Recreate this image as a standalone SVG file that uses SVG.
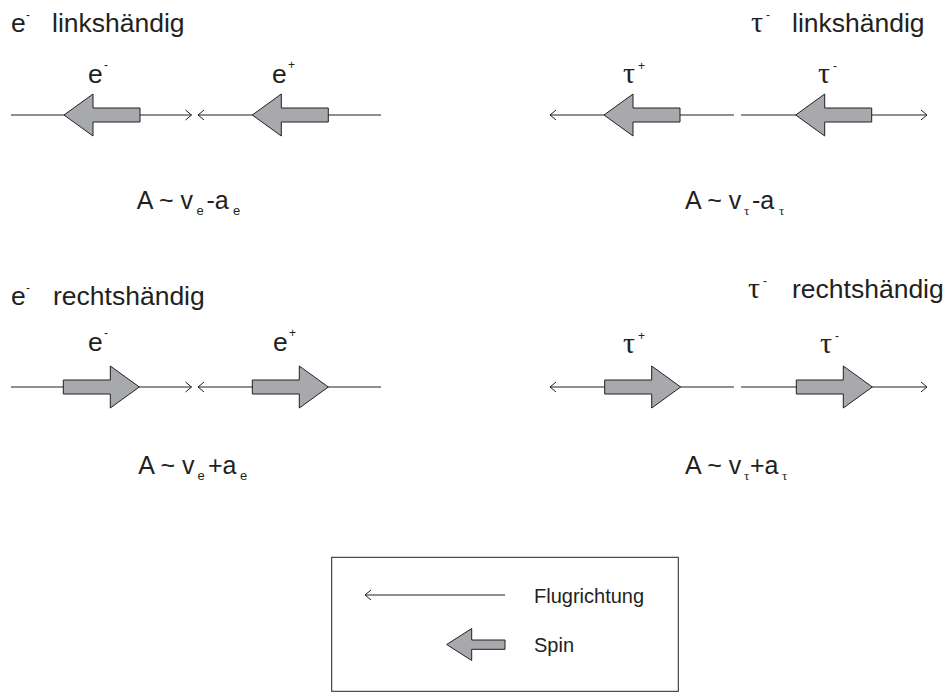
<svg xmlns="http://www.w3.org/2000/svg" xmlns:xlink="http://www.w3.org/1999/xlink" width="946" height="692" viewBox="0 0 946 692">
<style>
text{font-family:"Liberation Sans",Arial,sans-serif;fill:#231f20}
.t{font-size:26.5px}
.tau{font-family:"Liberation Serif","Times New Roman",serif;font-size:30px}
.f{font-size:25px}
.sub{font-size:13px}
.subt{font-family:"Liberation Serif","Times New Roman",serif;font-size:13px}
.sup{font-size:12px}
.lg{font-size:20px}
.ln{stroke:#231f20;stroke-width:1;fill:none}
.spin{fill:#a7a9ac;stroke:#231f20;stroke-width:1}
</style>
<defs>
<marker id="ch" viewBox="-7 -6 8 12" markerWidth="8" markerHeight="12" refX="0" refY="0" orient="auto" markerUnits="userSpaceOnUse">
<path d="M-6,-5 L0,0 L-6,5" fill="none" stroke="#231f20" stroke-width="1"/>
</marker>
<path id="spinL" class="spin" d="M0,0 L29,-21 L29,-7 L76,-7 L76,7 L29,7 L29,21 Z"/>
</defs>
<g id="connectors">
<line class="ln" x1="11" y1="115" x2="191.5" y2="115" marker-end="url(#ch)"/>
<line class="ln" x1="381" y1="115" x2="198" y2="115" marker-end="url(#ch)"/>
<line class="ln" x1="734" y1="115" x2="550" y2="115" marker-end="url(#ch)"/>
<line class="ln" x1="741" y1="115" x2="927" y2="115" marker-end="url(#ch)"/>
<line class="ln" x1="11" y1="387" x2="191.5" y2="387" marker-end="url(#ch)"/>
<line class="ln" x1="381" y1="387" x2="198" y2="387" marker-end="url(#ch)"/>
<line class="ln" x1="734" y1="387" x2="550" y2="387" marker-end="url(#ch)"/>
<line class="ln" x1="741" y1="387" x2="927" y2="387" marker-end="url(#ch)"/>
<line class="ln" x1="505" y1="595" x2="365" y2="595" marker-end="url(#ch)"/>
</g>
<g id="spins">
<use xlink:href="#spinL" x="64" y="115"/>
<use xlink:href="#spinL" x="252.3" y="115"/>
<use xlink:href="#spinL" x="604" y="115"/>
<use xlink:href="#spinL" x="795.7" y="115"/>
<use xlink:href="#spinL" transform="translate(139.3,387) scale(-1,1)"/>
<use xlink:href="#spinL" transform="translate(328.3,387) scale(-1,1)"/>
<use xlink:href="#spinL" transform="translate(680.7,387) scale(-1,1)"/>
<use xlink:href="#spinL" transform="translate(872.3,387) scale(-1,1)"/>
</g>
<g id="title-e-left">
<text class="t" x="11" y="32">e</text><text class="sup" x="26" y="19">-</text>
<text class="t" x="52" y="32">linkshändig</text>
</g>
<g id="title-tau-left">
<text class="tau" x="751" y="32">τ</text><text class="sup" x="766" y="19">-</text>
<text class="t" x="792" y="32">linkshändig</text>
</g>
<g id="title-e-right">
<text class="t" x="11" y="305">e</text><text class="sup" x="26" y="292">-</text>
<text class="t" x="53" y="305">rechtshändig</text>
</g>
<g id="title-tau-right">
<text class="tau" x="748" y="298">τ</text><text class="sup" x="763" y="285">-</text>
<text class="t" x="792" y="298">rechtshändig</text>
</g>
<g id="labels">
<text class="t" x="88" y="83">e</text><text class="sup" x="104" y="69">-</text>
<text class="t" x="272" y="83">e</text><text class="sup" x="288" y="69">+</text>
<text class="tau" x="623" y="83">τ</text><text class="sup" x="638" y="70">+</text>
<text class="tau" x="818" y="83">τ</text><text class="sup" x="833" y="70">-</text>
<text class="t" x="88" y="351">e</text><text class="sup" x="104" y="337">-</text>
<text class="t" x="273" y="351">e</text><text class="sup" x="289" y="337">+</text>
<text class="tau" x="623" y="353">τ</text><text class="sup" x="638" y="340">+</text>
<text class="tau" x="820" y="353">τ</text><text class="sup" x="835" y="340">-</text>
</g>
<g id="formula-1">
<text class="f" x="136.7" y="209">A ~ v</text><text class="sub" x="196.5" y="215">e</text><text class="f" x="206.5" y="209">-a</text><text class="sub" x="233" y="215">e</text>
</g>
<g id="formula-2">
<text class="f" x="685" y="209">A ~ v</text><text class="subt" x="744" y="215">τ</text><text class="f" x="752" y="209">-a</text><text class="subt" x="779" y="215">τ</text>
</g>
<g id="formula-3">
<text class="f" x="138.3" y="474">A ~ v</text><text class="sub" x="197.5" y="480">e</text><text class="f" x="208" y="474">+a</text><text class="sub" x="240" y="480">e</text>
</g>
<g id="formula-4">
<text class="f" x="685" y="474">A ~ v</text><text class="subt" x="744" y="480">τ</text><text class="f" x="750" y="474">+a</text><text class="subt" x="782" y="480">τ</text>
</g>
<g id="legend">
<rect x="331.7" y="557.3" width="346.6" height="134" fill="none" stroke="#231f20" stroke-width="1"/>
<text class="lg" x="534" y="603">Flugrichtung</text>
<path class="spin" d="M446.7,644.5 L471.7,628.5 L471.7,640 L505,640 L505,649.3 L471.7,649.3 L471.7,660.5 Z"/>
<text class="lg" x="534" y="652">Spin</text>
</g>
</svg>
